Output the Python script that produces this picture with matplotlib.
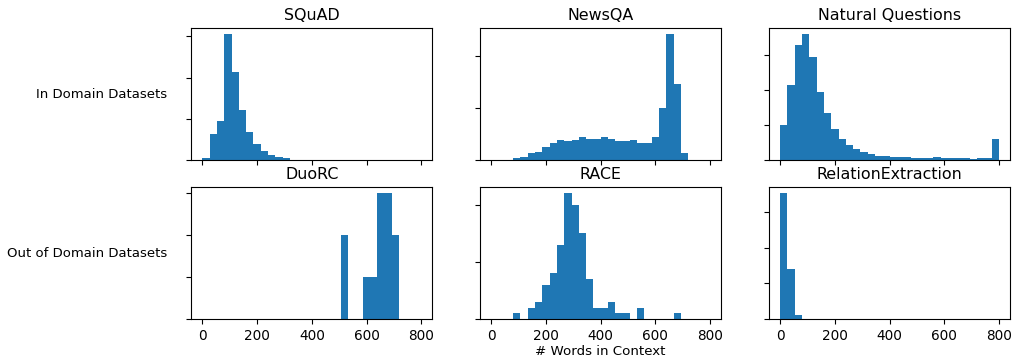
import numpy as np
import matplotlib
matplotlib.use("Agg")
import matplotlib.pyplot as plt

# 30 equal bins over 0..800 words
bin_edges = np.linspace(0, 800, 31)

titles = ["SQuAD", "NewsQA", "Natural Questions",
          "DuoRC", "RACE", "RelationExtraction"]
row_labels = ["In Domain Datasets", "Out of Domain Datasets"]

squad = [6, 62, 95, 305, 214, 121, 69, 40, 22, 12, 8, 4] + [0] * 18
newsqa = [0, 0, 0, 3, 6, 13, 16, 24, 32, 39, 37, 39, 45, 41, 41, 44, 41, 36,
          36, 38, 32, 32, 44, 100, 241, 146, 13, 0, 0, 0]
natural_questions = [100, 216, 330, 360, 295, 195, 135, 90, 60, 43, 32, 23,
                     16, 12, 12, 10, 10, 10, 7, 7, 7, 10, 6, 6, 6, 5, 3, 6, 6, 59]
duorc = [0] * 19 + [2, 0, 0, 1, 1, 3, 3, 2, 0, 0, 0]
race = [0, 0, 0, 1, 0, 2, 3, 6, 8, 13, 22, 20, 15, 7, 2, 2, 3, 1, 1, 0,
        2, 0, 0, 0, 0, 1, 0, 0, 0, 0]
relation_extraction = [3530, 1400, 120] + [0] * 27

series = [squad, newsqa, natural_questions, duorc, race, relation_extraction]
yticks = [[0, 100, 200, 300], [0, 100, 200], [0, 100, 200, 300],
          [0, 1, 2, 3], [0, 10, 20], [0, 1000, 2000, 3000]]
xticks = [0, 200, 400, 600, 800]

fig, axes = plt.subplots(2, 3, figsize=(10.13, 3.6), dpi=100, sharex=True)
fig.subplots_adjust(left=0.189, right=0.997, bottom=0.114, top=0.922,
                    wspace=0.2, hspace=0.205)

for ax, title, vals, yt in zip(axes.flat, titles, series, yticks):
    ax.hist(bin_edges[:-1], bins=bin_edges, weights=vals, color="#1f77b4")
    ax.set_title(title, fontsize=11.4)
    ax.set_yticks(yt)
    ax.set_yticklabels([])
    ax.set_xticks(xticks)
    ax.tick_params(labelsize=9.8)

axes[1, 1].set_xlabel("# Words in Context", fontsize=9.6, labelpad=2)

for row, label in enumerate(row_labels):
    pos = axes[row, 0].get_position()
    fig.text(167 / 1013, (pos.y0 + pos.y1) / 2, label, ha="right", va="center",
             fontsize=9.5)

fig.savefig("out.png", dpi=100)
